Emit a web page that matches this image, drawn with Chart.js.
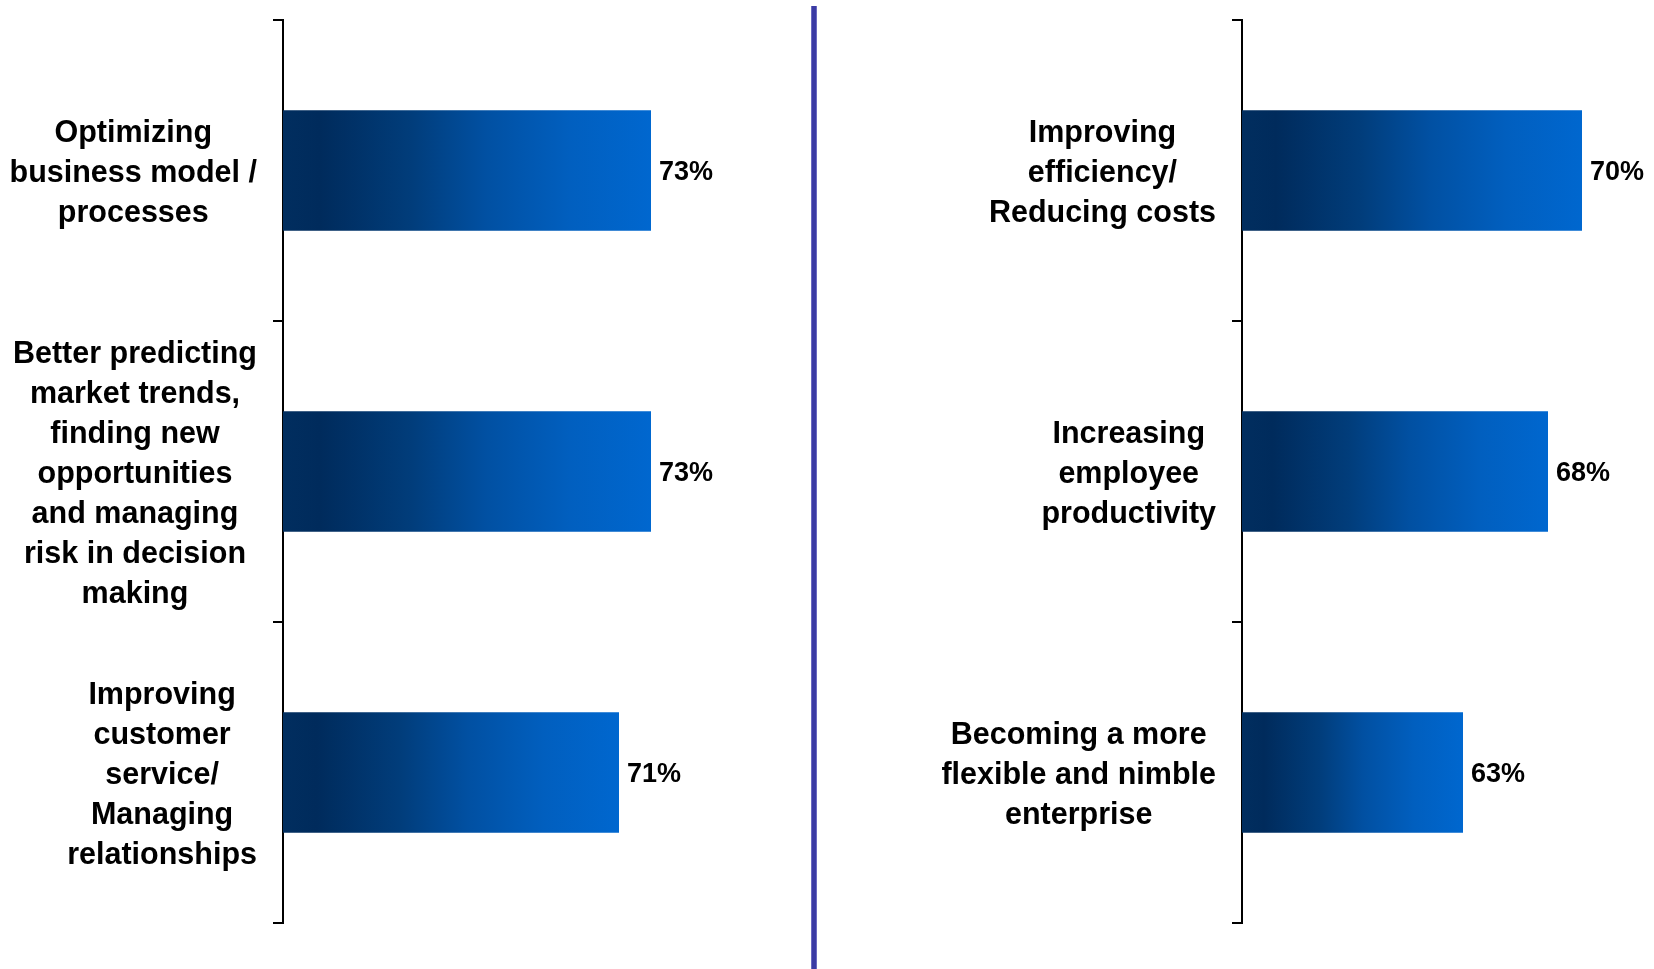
<!DOCTYPE html>
<html>
<head>
<meta charset="utf-8">
<script src="https://cdn.jsdelivr.net/npm/chart.js@4.4.1/dist/chart.umd.min.js"></script>
<style>
    html, body { margin: 0; padding: 0; background: #fff; }
    body { width: 1654px; height: 969px; position: relative; overflow: hidden; }
    .panel { position: absolute; top: 0; }
    #leftPanel { left: 0; }
    #rightPanel { left: 830px; }
    #divider {
        position: absolute; left: 811px; top: 6px; width: 6px; height: 963px;
        background: #3b3ba4; box-shadow: inset 1px 0 0 #6a6ac0, inset -1px 0 0 #6a6ac0;
    }
</style>
</head>
<body>
<div class="panel" id="leftPanel"><canvas id="leftChart" width="800" height="969"></canvas></div>
<div id="divider"></div>
<div class="panel" id="rightPanel"><canvas id="rightChart" width="824" height="969"></canvas></div>

<script>
// left panel
const leftCategories = [
    ['Optimizing', 'business model /', 'processes'],
    ['Better predicting', 'market trends,', 'finding new', 'opportunities', 'and managing', 'risk in decision', 'making'],
    ['Improving', 'customer', 'service/', 'Managing', 'relationships']
];
const leftValues = [73, 73, 71];

// right panel
const rightCategories = [
    ['Improving', 'efficiency/', 'Reducing costs'],
    ['Increasing', 'employee', 'productivity'],
    ['Becoming a more', 'flexible and nimble', 'enterprise']
];
const rightValues = [70, 68, 63];

const FONT = '"Liberation Sans", Arial, Helvetica, sans-serif';

// dark navy on the left fading into bright blue at the bar end
function barGradient(context, values) {
    const chart = context.chart;
    const x = chart.scales.x;
    if (!chart.chartArea || !x) return '#0066cc';
    const x0 = x.getPixelForValue(x.min);
    const x1 = x.getPixelForValue(values[context.dataIndex]);
    const g = chart.ctx.createLinearGradient(x0, 0, x1, 0);
    g.addColorStop(0, '#012e5f');
    g.addColorStop(0.1, '#002b5c');
    g.addColorStop(0.35, '#013d7b');
    g.addColorStop(0.55, '#0150a2');
    g.addColorStop(0.78, '#015fbf');
    g.addColorStop(1, '#0067cf');
    return g;
}

// multi-line category labels, each block centred on its own widest line
const categoryLabels = {
    id: 'categoryLabels',
    afterDraw(chart, args, opts) {
        const scale = chart.scales.y;
        const c = chart.ctx;
        c.save();
        c.font = 'bold 30.5px ' + FONT;
        c.fillStyle = '#000';
        c.textAlign = 'center';
        c.textBaseline = 'middle';
        chart.data.labels.forEach((lines, i) => {
            const yc = scale.getPixelForValue(i) + 3;
            const widest = Math.max(...lines.map(l => c.measureText(l).width));
            const cx = scale.right - opts.gap - widest / 2;
            lines.forEach((line, k) => {
                c.fillText(line, cx, yc + (k - (lines.length - 1) / 2) * opts.lineHeight);
            });
        });
        c.restore();
    }
};

// percentage at the end of each bar
const valueLabels = {
    id: 'valueLabels',
    afterDatasetsDraw(chart) {
        const c = chart.ctx;
        const meta = chart.getDatasetMeta(0);
        const data = chart.data.datasets[0].data;
        c.save();
        c.font = 'bold 27px ' + FONT;
        c.fillStyle = '#000';
        c.textAlign = 'left';
        c.textBaseline = 'middle';
        meta.data.forEach((bar, i) => {
            c.fillText(data[i] + '%', bar.x + 8, bar.y + 2);
        });
        c.restore();
    }
};

function makeChart(canvasId, categories, values, axisLeft, xMax, padRight) {
    const ctx = document.getElementById(canvasId).getContext('2d');
    return new Chart(ctx, {
        type: 'bar',
        data: {
            labels: categories,
            datasets: [{
                data: values,
                backgroundColor: context => barGradient(context, values),
                borderWidth: 0,
                barPercentage: 0.4,
                categoryPercentage: 1
            }]
        },
        options: {
            indexAxis: 'y',
            responsive: false,
            animation: false,
            layout: { padding: { top: 20, bottom: 46, left: 0, right: padRight } },
            scales: {
                x: { type: 'linear', min: 50, max: xMax, display: false },
                y: {
                    type: 'category',
                    offset: true,
                    grid: {
                        offset: true,
                        drawOnChartArea: false,
                        drawTicks: true,
                        tickLength: 10,
                        color: '#000',
                        lineWidth: 2
                    },
                    border: { display: true, color: '#000', width: 2 },
                    ticks: { display: false },
                    afterFit: scale => { scale.width = axisLeft; }
                }
            },
            plugins: {
                legend: { display: false },
                tooltip: { enabled: false },
                categoryLabels: { gap: 26, lineHeight: 40 }
            }
        },
        plugins: [categoryLabels, valueLabels]
    });
}

document.addEventListener('DOMContentLoaded', () => {
    makeChart('leftChart', leftCategories, leftValues, 283, 80, 37);
    makeChart('rightChart', rightCategories, rightValues, 412, 74, 4);
});
</script>
</body>
</html>
